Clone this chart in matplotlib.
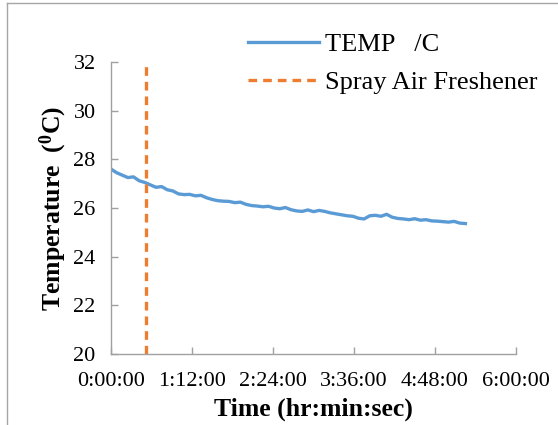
import matplotlib
matplotlib.use("Agg")
import matplotlib.pyplot as plt
from matplotlib.lines import Line2D
from matplotlib.ticker import FuncFormatter, MultipleLocator

# time in minutes
time_min = [0, 5, 10, 15, 20, 25, 30, 35, 40, 45, 50, 55, 60, 65, 70, 75, 80, 85, 90, 95,
            100, 105, 110, 115, 120, 125, 130, 135, 140, 145, 150, 155, 160, 165, 170, 175,
            180, 185, 190, 195, 200, 205, 210, 215, 220, 225, 230, 235, 240, 245, 250, 255,
            260, 265, 270, 275, 280, 285, 290, 295, 300, 305, 310, 315]
temp_c = [27.60, 27.45, 27.35, 27.25, 27.28, 27.12, 27.05, 26.95, 26.85, 26.88, 26.75, 26.70,
          26.58, 26.55, 26.56, 26.50, 26.52, 26.42, 26.35, 26.30, 26.28, 26.27, 26.22, 26.24,
          26.15, 26.10, 26.08, 26.05, 26.07, 26.00, 25.97, 26.02, 25.93, 25.88, 25.86, 25.92,
          25.85, 25.90, 25.86, 25.80, 25.76, 25.72, 25.68, 25.66, 25.58, 25.55, 25.68, 25.70,
          25.66, 25.74, 25.62, 25.57, 25.55, 25.52, 25.56, 25.50, 25.52, 25.47, 25.46, 25.44,
          25.42, 25.45, 25.38, 25.36]
spray_time_min = 31
y_ticks = [20, 22, 24, 26, 28, 30, 32]

plt.rcParams['font.family'] = ['Liberation Serif', 'DejaVu Serif']
plt.rcParams['mathtext.fontset'] = 'custom'
plt.rcParams['mathtext.rm'] = 'Liberation Serif'
plt.rcParams['mathtext.bf'] = 'Liberation Serif:bold'

fig = plt.figure(figsize=(5.58, 4.25), dpi=100)
W, H = 558, 425
ax = fig.add_axes([111 / W, 1 - 354 / H, (516 - 111) / W, (354 - 62) / H])

ax.plot(time_min, temp_c, color='#5B9BD5', lw=2.4, label='TEMP   /C')
ax.axvline(spray_time_min, color='#ED7D31', lw=2.4, linestyle=(0, (2.6, 1.8)),
           label='Spray Air Freshener')

ax.set_xlim(0, 360)
ax.set_ylim(20, 32)
ax.set_yticks(y_ticks)
ax.xaxis.set_major_locator(MultipleLocator(72))

def fmt(v, pos):
    total = int(round(v * 60))
    h = total // 3600
    m = (total % 3600) // 60
    s = total % 60
    return f"{h}:{m:02d}:{s:02d}"

ax.xaxis.set_major_formatter(FuncFormatter(fmt))

for s in ['top', 'right']:
    ax.spines[s].set_visible(False)
for s in ['left', 'bottom']:
    ax.spines[s].set_color('#A0A0A0')
    ax.spines[s].set_linewidth(1.0)
ax.tick_params(axis='both', direction='in', length=5, color='#A0A0A0', labelsize=16,
               width=1.0)
ax.tick_params(axis='y', pad=11)
ax.tick_params(axis='x', pad=13)

ax.set_xlabel('Time (hr:min:sec)', fontsize=18.5, fontweight='bold', labelpad=5)
ax.set_ylabel('Temperature  ($\\mathbf{^0}$C)', fontsize=18.5, fontweight='bold', labelpad=3)

leg = fig.legend(loc='upper left', bbox_to_anchor=(248 / W, 1 - 33 / H), frameon=False,
                 fontsize=19, handlelength=2.7, handletextpad=0.2, labelspacing=0.55,
                 borderaxespad=0, borderpad=0)

# chart-area border (top and left visible)
fig.add_artist(Line2D([7 / W, 7 / W], [0, 1 - 3 / H], transform=fig.transFigure,
                      color='#A6A6A6', lw=1.0))
fig.add_artist(Line2D([7 / W, 1], [1 - 3 / H, 1 - 3 / H], transform=fig.transFigure,
                      color='#A6A6A6', lw=1.0))

fig.savefig('out.png', dpi=100)
